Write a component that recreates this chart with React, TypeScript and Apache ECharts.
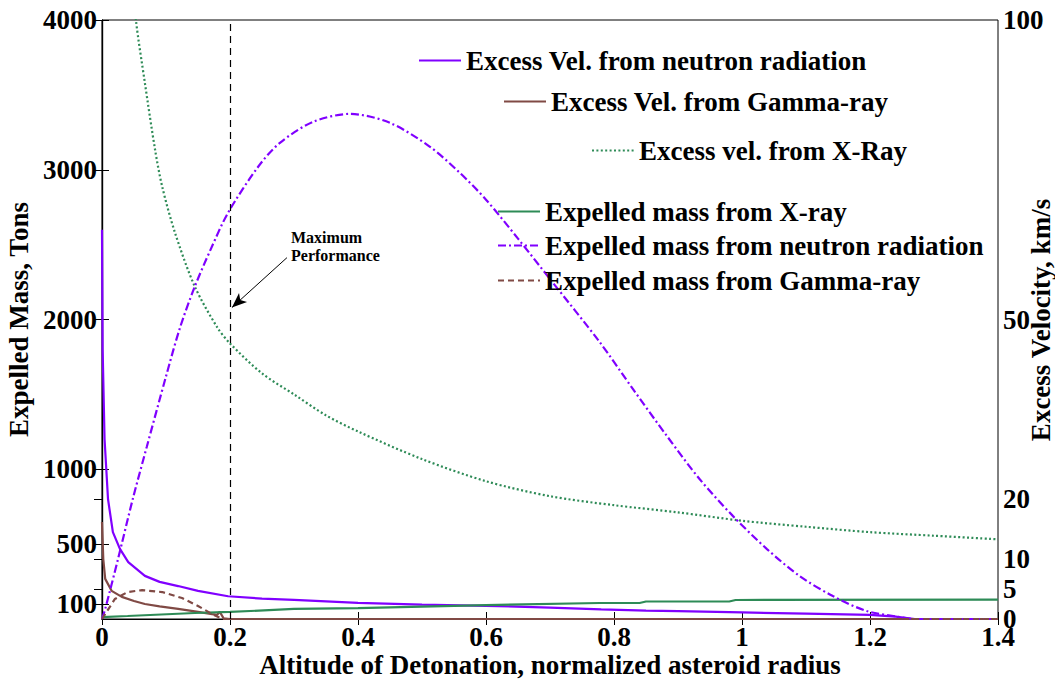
import React, { useEffect, useRef } from "react";
import * as echarts from "echarts";

const FONT = '"Liberation Serif", "Times New Roman", serif';

// Excess velocity (km/s, right axis)
const neutronVelX = [0, 0.001, 0.004, 0.0094, 0.017, 0.028, 0.041, 0.067, 0.09, 0.119, 0.15, 0.197, 0.25, 0.3, 0.4, 0.5, 0.6, 0.7, 0.78, 0.85, 0.9, 1.0, 1.1, 1.2, 1.24, 1.27, 1.4];
const neutronVelY = [65, 45, 30, 20, 14.5, 11.7, 9.5, 7.2, 6.2, 5.5, 4.7, 3.8, 3.4, 3.2, 2.7, 2.4, 2.2, 1.9, 1.6, 1.4, 1.3, 1.1, 0.9, 0.7, 0.4, 0, 0];

const gammaVelX = [0, 0.002, 0.005, 0.015, 0.031, 0.05, 0.067, 0.09, 0.119, 0.15, 0.172, 0.18, 0.184, 0.19, 0.2, 1.4];
const gammaVelY = [16.2, 10, 6.7, 4.7, 3.7, 3.0, 2.5, 2.1, 1.7, 1.2, 0.8, 0.7, 1.2, 0.1, 0, 0];

const xrayVelX = [0.04, 0.053, 0.067, 0.083, 0.094, 0.114, 0.145, 0.18, 0.2, 0.25, 0.3, 0.35, 0.4, 0.5, 0.6, 0.7, 0.8, 0.9, 1.0, 1.1, 1.2, 1.3, 1.4];
const xrayVelY = [115, 100, 89.5, 78.3, 72.2, 64.5, 55.5, 48.7, 46, 41, 37.5, 34, 31.3, 26.7, 23, 20.5, 19, 17.8, 16.4, 15.4, 14.5, 13.9, 13.3];

// Expelled mass (tons, left axis)
const xrayMassX = [0, 0.04, 0.145, 0.2, 0.3, 0.4, 0.6, 0.778, 0.84, 0.85, 0.98, 0.99, 1.4];
const xrayMassY = [13, 20, 40, 47, 67, 73, 93, 107, 107, 117, 117, 127, 130];

const neutronMassX = [0, 0.005, 0.025, 0.048, 0.07, 0.1, 0.122, 0.145, 0.17, 0.197, 0.244, 0.278, 0.33, 0.3875, 0.45, 0.5125, 0.559, 0.6, 0.65, 0.7, 0.778, 0.83, 0.883, 0.934, 0.986, 1.039, 1.09, 1.142, 1.195, 1.247, 1.27, 1.4];
const neutronMassY = [0, 67, 400, 800, 1150, 1620, 1947, 2220, 2470, 2713, 3020, 3180, 3320, 3373, 3313, 3153, 2980, 2800, 2540, 2270, 1847, 1533, 1220, 933, 687, 467, 287, 153, 53, 13, 0, 0];

const gammaMassX = [0, 0.02, 0.04, 0.0625, 0.094, 0.125, 0.15, 0.172, 0.185, 0.19, 1.4];
const gammaMassY = [0, 133, 180, 193, 180, 140, 87, 33, 7, 0, 0];

const leftLabels = [100, 500, 1000, 2000, 3000, 4000];
const leftTicks = [100, 500, 1000, 2000, 3000, 4000];
const rightLabels = [0, 5, 10, 20, 50, 100];
const rightTicks = [2.5, 5, 10, 12.5, 20, 25, 50, 75, 100];

const names = [
  "Excess Vel. from neutron radiation",
  "Excess Vel. from Gamma-ray",
  "Excess vel. from X-Ray",
  "Expelled mass from X-ray",
  "Expelled mass from neutron radiation",
  "Expelled mass from Gamma-ray",
];

const PURPLE = "#8000ff";
const BROWN = "#804a45";
const GREEN = "#2e8b57";

const zip = (xs: number[], ys: number[]) => xs.map((x, i) => [x, ys[i]]);

export default function App() {
  const ref = useRef<HTMLDivElement>(null);
  useEffect(() => {
    if (!ref.current) return;
    const chart = echarts.init(ref.current, null, { renderer: "svg" });
    const labelStyle = { fontFamily: FONT, fontWeight: "bold" as const, fontSize: 27, color: "#000" };
    const legendPos = [
      [418, 47],
      [503, 88],
      [591, 137],
      [497, 198],
      [497, 232],
      [497, 267],
    ];
    const legends = names.map((n, i) => ({
      left: legendPos[i][0],
      top: legendPos[i][1],
      data: [n],
      itemWidth: 42,
      itemHeight: 14,
      padding: 0,
      selectedMode: false,
      itemStyle: { opacity: 0 },
      textStyle: { ...labelStyle, fontSize: 27 },
    }));
    const base = { type: "line", showSymbol: false, symbol: "none", animation: false };
    chart.setOption({
      animation: false,
      backgroundColor: "#fff",
      textStyle: { fontFamily: FONT },
      grid: {
        left: 102,
        right: 57,
        top: 20,
        bottom: 60,
        outerBoundsMode: "none",
        containLabel: false,
        show: true,
        borderColor: "#000",
        borderWidth: 1,
        backgroundColor: "transparent",
      },
      legend: legends,
      xAxis: [
        {
          type: "value",
          min: 0,
          max: 1.4,
          interval: 0.2,
          position: "bottom",
          axisLine: { lineStyle: { color: "#000", width: 1.2 } },
          axisTick: { inside: true, length: 7, lineStyle: { color: "#000" } },
          splitLine: { show: false },
          axisLabel: { ...labelStyle, margin: 4, formatter: (v: number) => String(+v.toFixed(1)) },
        },
        {
          type: "value",
          min: 0,
          max: 1.4,
          interval: 0.2,
          position: "top",
          axisLine: { lineStyle: { color: "#000" } },
          axisTick: { inside: true, length: 6, lineStyle: { color: "#000" } },
          axisLabel: { show: false },
          splitLine: { show: false },
        },
      ],
      yAxis: [
        {
          type: "value",
          min: 0,
          max: 4000,
          position: "left",
          axisLine: { show: true, lineStyle: { color: "#000", width: 1.2 } },
          axisTick: { show: true, inside: true, length: 7, customValues: leftTicks, lineStyle: { color: "#000" } },
          axisLabel: { ...labelStyle, margin: 5, customValues: leftLabels, formatter: (v: number) => String(v) },
          splitLine: { show: false },
          name: "Expelled Mass, Tons",
          nameLocation: "middle",
          nameRotate: 90,
          nameGap: 64,
          nameTextStyle: labelStyle,
        },
        {
          type: "value",
          min: 0,
          max: 100,
          position: "right",
          axisLine: { show: true, lineStyle: { color: "#000", width: 1.2 } },
          axisTick: { show: true, inside: true, length: 8, customValues: rightTicks, lineStyle: { color: "#000" } },
          axisLabel: { ...labelStyle, margin: 5, customValues: rightLabels, formatter: (v: number) => String(v) },
          splitLine: { show: false },
        },
      ],
      series: [
        {
          ...base,
          name: names[0],
          yAxisIndex: 1,
          data: zip(neutronVelX, neutronVelY),
          lineStyle: { color: PURPLE, width: 2.2, type: "solid" },
          itemStyle: { color: PURPLE },
        },
        {
          ...base,
          name: names[1],
          yAxisIndex: 1,
          data: zip(gammaVelX, gammaVelY),
          lineStyle: { color: BROWN, width: 2.2, type: "solid" },
          itemStyle: { color: BROWN },
        },
        {
          ...base,
          smooth: 0.3,
          name: names[2],
          yAxisIndex: 1,
          data: zip(xrayVelX, xrayVelY),
          lineStyle: { color: GREEN, width: 2.2, type: [2, 2.4] },
          itemStyle: { color: GREEN },
          markLine: {
            silent: true,
            symbol: "none",
            label: { show: false },
            lineStyle: { color: "#000", type: [7, 5], width: 1.2 },
            data: [{ xAxis: 0.2 }],
          },
        },
        {
          ...base,
          name: names[3],
          yAxisIndex: 0,
          data: zip(xrayMassX, xrayMassY),
          lineStyle: { color: GREEN, width: 2.2, type: "solid" },
          itemStyle: { color: GREEN },
          markLine: {
            silent: true,
            symbol: ["none", "arrow"],
            symbolSize: [9, 15],
            label: { show: false },
            lineStyle: { color: "#000", type: "solid", width: 1 },
            itemStyle: { color: "#000" },
            data: [[{ coord: [0.289, 2413] }, { coord: [0.203, 2080] }]],
          },
        },
        {
          ...base,
          smooth: 0.3,
          name: names[4],
          yAxisIndex: 0,
          data: zip(neutronMassX, neutronMassY),
          lineStyle: { color: PURPLE, width: 2.2, type: [8, 3, 2, 3] },
          itemStyle: { color: PURPLE },
        },
        {
          ...base,
          name: names[5],
          yAxisIndex: 0,
          data: zip(gammaMassX, gammaMassY),
          lineStyle: { color: BROWN, width: 2.2, type: [6, 4] },
          itemStyle: { color: BROWN },
        },
      ],
      graphic: [
        {
          type: "text",
          left: 291,
          top: 228,
          style: {
            text: "Maximum\nPerformance",
            fontFamily: FONT,
            fontWeight: "bold",
            fontSize: 16,
            lineHeight: 18,
            fill: "#000",
          },
        },
        {
          type: "text",
          x: 1041,
          y: 320,
          rotation: Math.PI / 2,
          style: {
            text: "Excess Velocity, km/s",
            fontFamily: FONT,
            fontWeight: "bold",
            fontSize: 27,
            fill: "#000",
            textAlign: "center",
            textVerticalAlign: "middle",
          },
        },
        {
          type: "text",
          x: 550,
          y: 665,
          style: {
            text: "Altitude of Detonation, normalized asteroid radius",
            fontFamily: FONT,
            fontWeight: "bold",
            fontSize: 27,
            fill: "#000",
            textAlign: "center",
            textVerticalAlign: "middle",
          },
        },
      ],
    });
    return () => chart.dispose();
  }, []);
  return (
    <div
      ref={ref}
      style={{ position: "fixed", left: 0, top: 0, width: 1055, height: 679, background: "#fff" }}
    />
  );
}
